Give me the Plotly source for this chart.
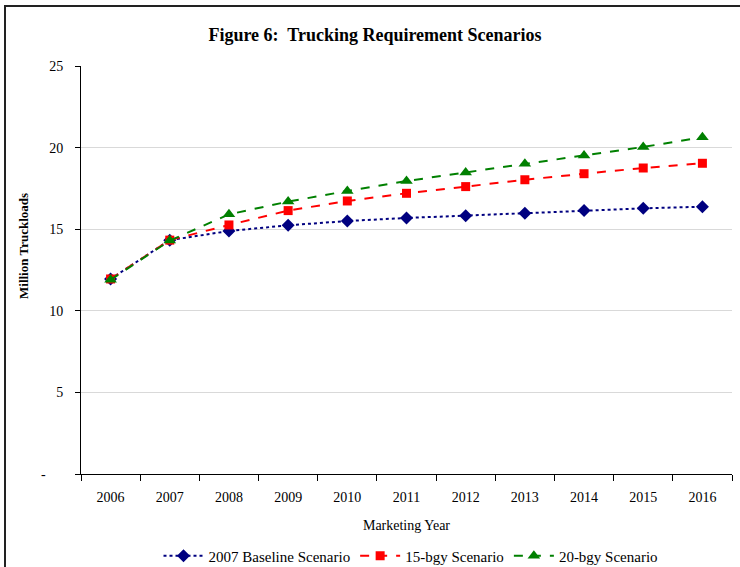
import plotly.graph_objects as go

years = ["2006", "2007", "2008", "2009", "2010", "2011", "2012", "2013", "2014", "2015", "2016"]
baseline = [11.95, 14.33, 14.89, 15.24, 15.50, 15.69, 15.83, 15.97, 16.15, 16.28, 16.38]
bgy15 = [11.95, 14.33, 15.26, 16.14, 16.73, 17.20, 17.61, 18.03, 18.40, 18.75, 19.04]
bgy20 = [11.90, 14.30, 15.91, 16.69, 17.34, 17.95, 18.48, 19.01, 19.52, 20.04, 20.63]
ytick_vals = [0, 5, 10, 15, 20, 25]
ytick_text = ["-\u00a0\u00a0\u00a0\u00a0\u00a0", "5", "10", "15", "20", "25"]

FONT = "Liberation Serif, Times New Roman, serif"

fig = go.Figure()
fig.add_trace(go.Scatter(
    x=years, y=baseline, name="2007 Baseline Scenario", mode="lines+markers",
    line=dict(color="#000080", width=2, dash="dot"),
    marker=dict(symbol="diamond", size=10, color="#000080"),
))
fig.add_trace(go.Scatter(
    x=years, y=bgy15, name="15-bgy Scenario", mode="lines+markers",
    line=dict(color="#FF0000", width=2, dash="dash"),
    marker=dict(symbol="square", size=9, color="#FF0000"),
))
fig.add_trace(go.Scatter(
    x=years, y=bgy20, name="20-bgy Scenario", mode="lines+markers",
    line=dict(color="#008000", width=2, dash="dash"),
    marker=dict(symbol="triangle-up", size=11, color="#008000"),
))

L, R, T, B = 81, 8, 66, 93
W, H = 740, 567
pw = W - L - R
ph = H - T - B

def px_x(px):
    return (px - L) / pw

def px_y(py):
    return (H - B - py) / ph

fig.update_layout(
    width=W, height=H,
    margin=dict(l=L, r=R, t=T, b=B, autoexpand=False),
    paper_bgcolor="white", plot_bgcolor="white",
    font=dict(family=FONT, size=14, color="black"),
    showlegend=True,
    legend=dict(orientation="h", xref="container", yref="container",
                x=411 / W, xanchor="center", y=1 - 556 / H, yanchor="middle",
                font=dict(size=15), itemwidth=40, tracegroupgap=0),
    title=dict(text="<b>Figure 6:  Trucking Requirement Scenarios</b>", xref="container",
               x=375 / W, xanchor="center",
               y=1 - 35 / H, yanchor="middle", font=dict(family=FONT, size=18)),
    xaxis=dict(
        type="category", range=[-0.5, 10.5], tickson="boundaries", automargin=False,
        ticks="outside", ticklen=6, tickcolor="black", showgrid=False,
        showline=True, linecolor="black", linewidth=1, zeroline=False,
        tickfont=dict(size=14), mirror=False, ticklabelstandoff=10,
        title=dict(text="Marketing Year", font=dict(size=14), standoff=16),
    ),
    yaxis=dict(
        range=[0, 25], tickvals=ytick_vals, ticktext=ytick_text, automargin=False,
        ticks="outside", ticklen=5, tickcolor="black", ticklabelstandoff=9,
        showgrid=True, gridcolor="#d9d9d9", gridwidth=1,
        showline=True, linecolor="black", linewidth=1, zeroline=False,
        tickfont=dict(size=14),
    ),
    annotations=[dict(
        text="<b>Million Truckloads</b>", textangle=-90, xref="paper", yref="paper",
        x=px_x(23), y=px_y(246), xanchor="center", yanchor="middle", showarrow=False,
        font=dict(family=FONT, size=13),
    )],
    shapes=[
        dict(type="line", xref="paper", yref="paper", x0=px_x(4), x1=px_x(745), y0=px_y(6), y1=px_y(6),
             line=dict(color="#222222", width=2)),
        dict(type="line", xref="paper", yref="paper", x0=px_x(5), x1=px_x(5), y0=px_y(5), y1=px_y(600),
             line=dict(color="#222222", width=2)),
    ],
)

fig.write_html("out.html", config={"displayModeBar": False},
               post_script="document.body.style.margin='0';document.body.style.overflow='hidden';")
